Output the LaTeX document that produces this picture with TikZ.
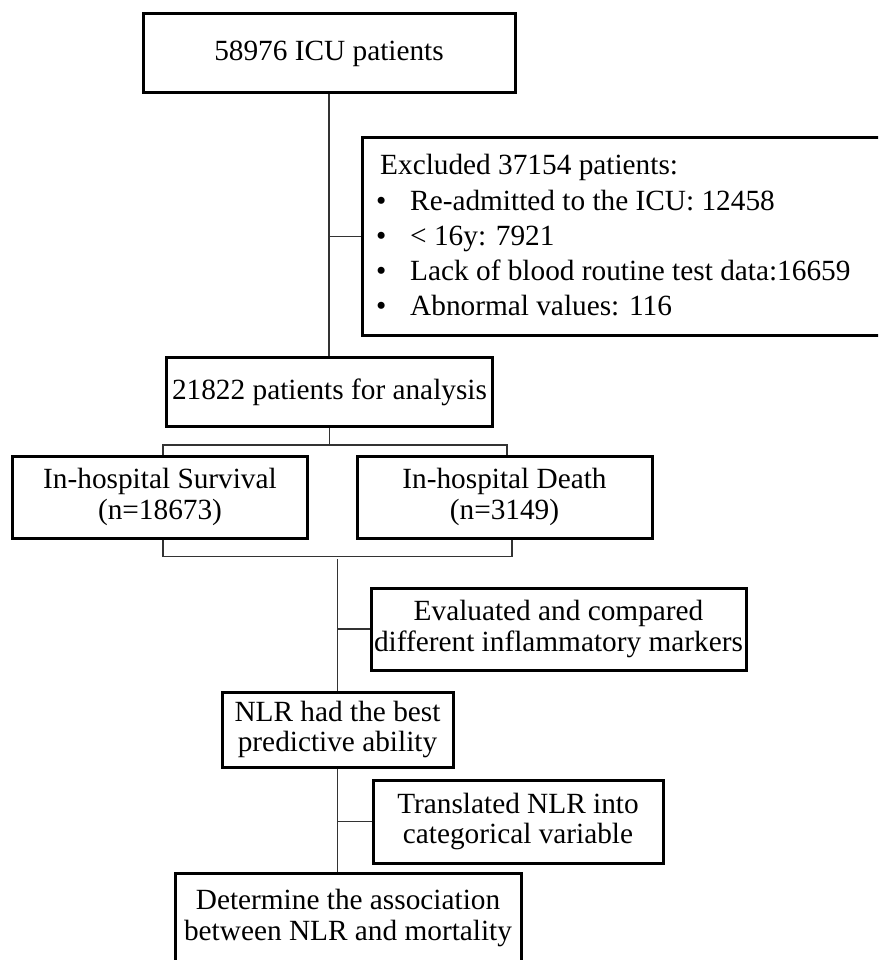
\documentclass[tikz,border=0pt]{standalone}
\usepackage{fontspec}
\setmainfont{Liberation Serif}
\usetikzlibrary{calc}
\newcommand\myfs{\fontsize{29.3pt}{30.5pt}\selectfont}
\begin{document}
\begin{tikzpicture}[x=1pt,y=-1pt,
  box/.style={draw=black, line width=3pt, align=center, inner sep=0pt, font=\myfs},
  conn/.style={draw=black!80, line width=1.5pt},
  txt/.style={anchor=base west, inner sep=0pt, font=\myfs}]
\useasboundingbox (0,0) rectangle (878,960);
\clip (0,0) rectangle (878,960);

\node[box, minimum width=372pt, minimum height=79pt] (top) at (329,53.5) {58976 ICU patients};

\node[box, minimum width=523pt, minimum height=197pt] (excl) at (624,236.5) {};
\node[txt] (ex0) at (380,175) {Excluded 37154 patients:};
\node[txt] (bu1) at (376,210) {\textbullet};
\node[txt] (ex1) at (410,210) {Re-admitted to the ICU: 12458};
\node[txt] (bu2) at (376,245) {\textbullet};
\node[txt] (ex2) at (410,245) {< 16y: 7921};
\node[txt] (bu3) at (376,280) {\textbullet};
\node[txt] (ex3) at (410,280) {Lack of blood routine test data:16659};
\node[txt] (bu4) at (376,315) {\textbullet};
\node[txt] (ex4) at (410,315) {Abnormal values: 116};

\node[box, minimum width=326pt, minimum height=69pt] (anal) at (329.5,392) {21822 patients for analysis};
\node[box, minimum width=295pt, minimum height=82pt] (surv) at (160,497) {In-hospital Survival\\(n=18673)};
\node[box, minimum width=295pt, minimum height=82pt] (death) at (504.5,497) {In-hospital Death\\(n=3149)};
\node[box, minimum width=375pt, minimum height=82pt] (eval) at (558.5,629) {Evaluated and compared\\different inflammatory markers};
\node[box, minimum width=231pt, minimum height=75pt] (nlr) at (337.5,729.5) {NLR had the best\\predictive ability};
\node[box, minimum width=290pt, minimum height=83pt] (trans) at (518,821.5) {Translated NLR into\\categorical variable};
\node[box, minimum width=346pt, minimum height=90pt] (det) at (348,918) {Determine the association\\between NLR and mortality};

\draw[conn] (top.south) -- (top.south |- anal.north);
\draw[conn] (top.south |- excl.west) -- (excl.west);

\path (anal.south) ++(0,17) coordinate (sj);
\draw[conn] (anal.south) -- (sj);
\coordinate (sl) at ($(surv.north)+(3,0)$);
\coordinate (sr) at ($(death.north)+(2.5,0)$);
\draw[conn] (sl) -- (sl |- sj) -- (sr |- sj) -- (sr);

\coordinate (bl) at ($(surv.south)+(3,0)$);
\coordinate (br) at ($(death.south)+(7.5,0)$);
\path (bl) ++(0,17) coordinate (bj);
\draw[conn] (bl) -- (bj) -- (br |- bj) -- (br);

\coordinate (vt) at (337.5,559);
\draw[conn] (vt) -- (nlr.north);
\draw[conn] (vt |- eval.west) -- (eval.west);
\draw[conn] (nlr.south) -- (nlr.south |- det.north);
\draw[conn] (nlr.south |- trans.west) -- (trans.west);
\end{tikzpicture}
\end{document}
